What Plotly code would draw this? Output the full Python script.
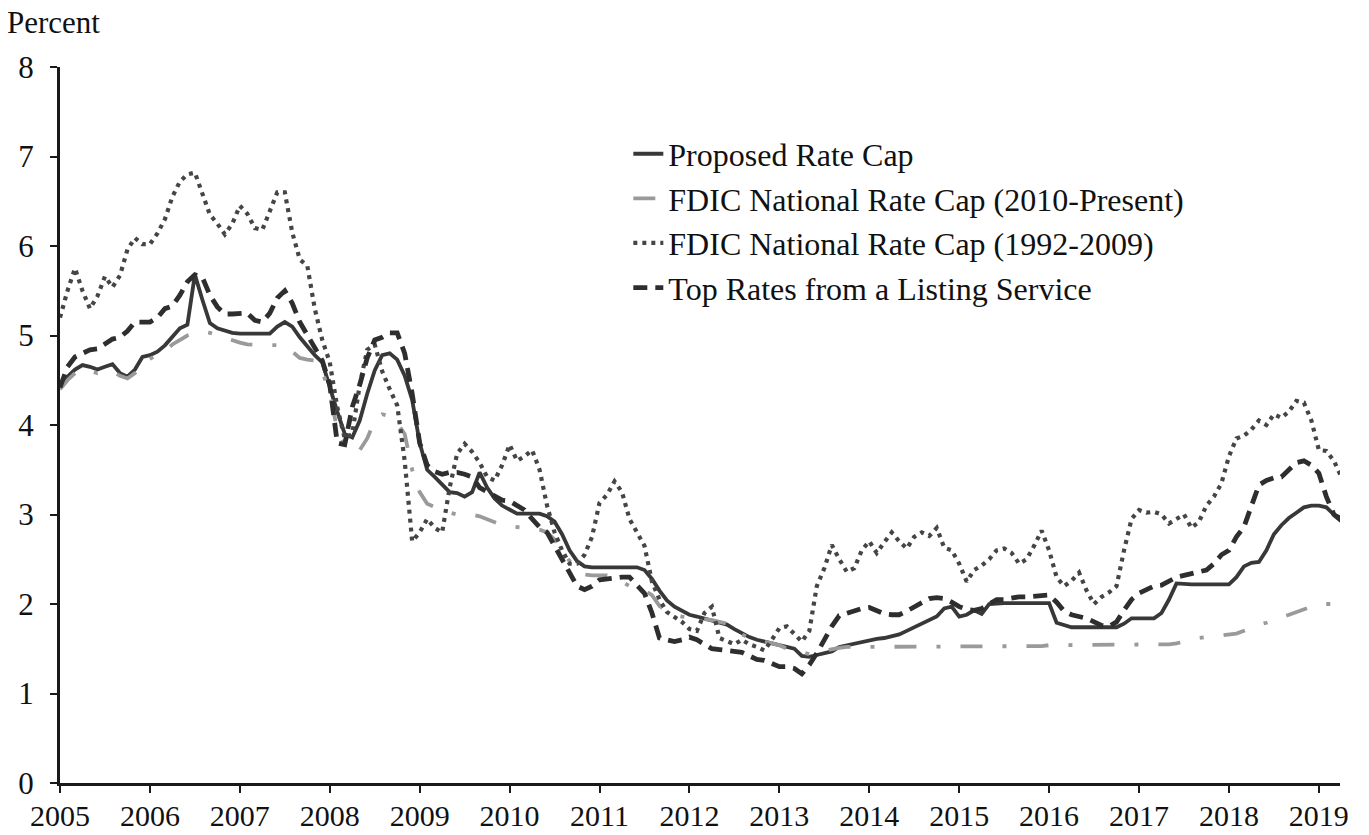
import plotly.graph_objects as go

# Monthly observations, January 2005 through April 2019
start_year = 2005
n_months = 172

proposed_rate_cap = [
    4.42, 4.54, 4.62, 4.67, 4.65, 4.62, 4.65, 4.68, 4.58, 4.54, 4.62, 4.76,
    4.78, 4.82, 4.89, 4.98, 5.08, 5.12, 5.68, 5.40, 5.14, 5.08, 5.05, 5.03,
    5.02, 5.02, 5.02, 5.02, 5.02, 5.10, 5.15, 5.10, 4.98, 4.88, 4.78, 4.70,
    4.42, 4.15, 3.90, 3.86, 4.05, 4.35, 4.61, 4.78, 4.80, 4.73, 4.55, 4.28,
    3.80, 3.50, 3.42, 3.33, 3.25, 3.24, 3.20, 3.25, 3.47, 3.30, 3.18, 3.10,
    3.05, 3.01, 3.01, 3.01, 3.01, 2.98, 2.92, 2.78, 2.60, 2.48, 2.42, 2.41,
    2.41, 2.41, 2.41, 2.41, 2.41, 2.41, 2.38, 2.28, 2.15, 2.04, 1.97, 1.92,
    1.88, 1.86, 1.84, 1.82, 1.80, 1.77, 1.72, 1.67, 1.63, 1.60, 1.58, 1.56,
    1.55, 1.52, 1.50, 1.42, 1.41, 1.43, 1.45, 1.47, 1.52, 1.54, 1.55, 1.57,
    1.60, 1.61, 1.62, 1.64, 1.66, 1.70, 1.74, 1.78, 1.82, 1.86, 1.95, 1.97,
    1.86, 1.88, 1.93, 1.89, 2.00, 2.01, 2.01, 2.01, 2.01, 2.01, 2.01, 2.01,
    2.01, 1.79, 1.76, 1.74, 1.74, 1.74, 1.74, 1.74, 1.74, 1.74, 1.78, 1.84,
    1.84, 1.84, 1.84, 1.90, 2.05, 2.23, 2.22, 2.22, 2.22, 2.22, 2.22, 2.22,
    2.22, 2.30, 2.42, 2.46, 2.47, 2.60, 2.78, 2.88, 2.96, 3.02, 3.08, 3.10,
    3.10, 3.08, 3.00, 2.96,
]

fdic_cap_2010_present = [
    4.40, 4.50, 4.58, 4.62, 4.60, 4.58, 4.60, 4.60, 4.55, 4.52, 4.58, 4.70,
    4.74, 4.78, 4.82, 4.90, 4.95, 5.00, 5.03, 5.04, 5.03, 5.00, 4.97, 4.94,
    4.92, 4.90, 4.90, 4.89, 4.89, 4.89, 4.89, 4.82, 4.75, 4.73, 4.72, 4.60,
    4.35, 3.95, 3.78, 3.70, 3.72, 3.85, 4.05, 4.12, 4.10, 4.02, 3.90, 3.50,
    3.25, 3.12, 3.08, 3.05, 3.02, 3.00, 3.00, 3.00, 2.98, 2.95, 2.92, 2.88,
    2.87, 2.86, 2.85, 2.84, 2.83, 2.80, 2.72, 2.60, 2.48, 2.38, 2.33, 2.32,
    2.32, 2.32, 2.30, 2.25, 2.20, 2.18, 2.15, 2.10, 1.98, 1.92, 1.88, 1.86,
    1.85, 1.84, 1.84, 1.82, 1.80, 1.78, 1.72, 1.66, 1.62, 1.60, 1.57, 1.55,
    1.54, 1.50, 1.48, 1.45, 1.44, 1.46, 1.48, 1.50, 1.51, 1.52, 1.52, 1.52,
    1.52, 1.52, 1.52, 1.52, 1.52, 1.52, 1.52, 1.52, 1.52, 1.52, 1.52, 1.52,
    1.53, 1.53, 1.53, 1.53, 1.53, 1.53, 1.53, 1.53, 1.53, 1.53, 1.53, 1.53,
    1.54, 1.54, 1.54, 1.54, 1.54, 1.54, 1.54, 1.54, 1.54, 1.54, 1.54, 1.54,
    1.54, 1.54, 1.54, 1.54, 1.55, 1.56, 1.58, 1.61, 1.62, 1.63, 1.64, 1.65,
    1.65, 1.67, 1.70, 1.74, 1.77, 1.79, 1.82, 1.85, 1.88, 1.90, 1.93, 1.97,
    2.00, 2.00, 2.00, 2.00,
]

fdic_cap_1992_2009 = [
    5.20, 5.50, 5.75, 5.50, 5.30, 5.44, 5.66, 5.54, 5.67, 5.96, 6.09, 6.02,
    6.02, 6.14, 6.30, 6.55, 6.72, 6.80, 6.82, 6.58, 6.35, 6.25, 6.13, 6.25,
    6.45, 6.36, 6.20, 6.18, 6.38, 6.60, 6.60, 6.15, 5.85, 5.78, 5.30, 4.95,
    4.70, 4.20, 3.85, 3.90, 4.45, 4.84, 4.90, 4.60, 4.40, 4.22, 3.60, 2.70,
    2.80, 2.95, 2.85, 2.80, 3.30, 3.68, 3.79, 3.70, 3.58, 3.42, 3.38, 3.55,
    3.78, 3.60, 3.65, 3.72, 3.50, 3.10, 2.80, 2.60, 2.45, 2.45, 2.55, 2.75,
    3.13, 3.22, 3.37, 3.25, 2.95, 2.80, 2.65, 2.25, 2.05, 1.91, 1.85, 1.80,
    1.72, 1.70, 1.90, 1.97, 1.62, 1.58, 1.55, 1.60, 1.55, 1.52, 1.48, 1.60,
    1.73, 1.75, 1.67, 1.58, 1.70, 2.20, 2.40, 2.66, 2.50, 2.36, 2.40, 2.60,
    2.70, 2.57, 2.69, 2.80, 2.70, 2.62, 2.75, 2.80, 2.76, 2.85, 2.63, 2.60,
    2.45, 2.25, 2.38, 2.43, 2.50, 2.60, 2.62, 2.57, 2.45, 2.50, 2.65, 2.82,
    2.60, 2.30, 2.20, 2.26, 2.35, 2.15, 2.00, 2.08, 2.13, 2.20, 2.60, 2.95,
    3.05, 3.02, 3.03, 3.00, 2.90, 2.95, 3.00, 2.85, 2.92, 3.10, 3.20, 3.35,
    3.65, 3.85, 3.88, 3.95, 4.05, 4.00, 4.12, 4.08, 4.15, 4.27, 4.25, 4.05,
    3.72, 3.71, 3.60, 3.42,
]

top_rates_listing_service = [
    4.42, 4.65, 4.76, 4.80, 4.84, 4.85, 4.90, 4.96, 4.98, 5.05, 5.15, 5.15,
    5.15, 5.20, 5.30, 5.33, 5.45, 5.60, 5.68, 5.65, 5.45, 5.32, 5.24, 5.24,
    5.25, 5.25, 5.17, 5.15, 5.25, 5.42, 5.50, 5.36, 5.15, 5.00, 4.85, 4.72,
    4.45, 3.80, 3.78, 4.20, 4.45, 4.75, 4.95, 4.98, 5.03, 5.03, 4.80, 4.35,
    3.80, 3.55, 3.48, 3.45, 3.47, 3.47, 3.45, 3.42, 3.30, 3.25, 3.20, 3.16,
    3.15, 3.10, 3.05, 2.95, 2.86, 2.80, 2.65, 2.50, 2.35, 2.20, 2.16, 2.20,
    2.27, 2.28, 2.30, 2.30, 2.30, 2.20, 2.12, 1.90, 1.62, 1.60, 1.58, 1.60,
    1.63, 1.60, 1.55, 1.50, 1.49, 1.48, 1.47, 1.46, 1.42, 1.38, 1.37, 1.33,
    1.30, 1.30, 1.28, 1.22, 1.32, 1.45, 1.60, 1.75, 1.87, 1.90, 1.92, 1.95,
    1.96, 1.93, 1.89, 1.88, 1.88, 1.92, 1.97, 2.02, 2.06, 2.07, 2.06, 2.02,
    1.97, 1.94, 1.93, 1.95, 2.00, 2.05, 2.05, 2.07, 2.08, 2.08, 2.09, 2.10,
    2.10, 2.02, 1.92, 1.88, 1.86, 1.84, 1.80, 1.76, 1.75, 1.80, 1.93, 2.05,
    2.12, 2.16, 2.20, 2.21, 2.25, 2.30, 2.32, 2.34, 2.36, 2.38, 2.45, 2.55,
    2.60, 2.75, 2.86, 3.08, 3.33, 3.38, 3.41, 3.42, 3.50, 3.58, 3.60, 3.55,
    3.46, 3.20, 3.00, 2.93,
]

series_names = [
    "Proposed Rate Cap",
    "FDIC National Rate Cap (2010-Present)",
    "FDIC National Rate Cap (1992-2009)",
    "Top Rates from a Listing Service",
]
year_ticks = list(range(2005, 2020))
y_ticks = list(range(0, 9))

x_time = [start_year + i / 12 for i in range(n_months)]

FONT = "Liberation Serif, Times New Roman, serif"
AXIS = "#1a1a1a"
TEXT = "#111111"

fig = go.Figure()
styles = [
    (proposed_rate_cap, dict(color="#383838", width=3.8, dash="solid")),
    (fdic_cap_2010_present, dict(color="#9a9a9a", width=3.8, dash="22px,20px,4px,20px")),
    (fdic_cap_1992_2009, dict(color="#454545", width=4.2, dash="4px,5px")),
    (top_rates_listing_service, dict(color="#2e2e2e", width=4.8, dash="14px,8px")),
]
for name, (vals, line) in zip(series_names, styles):
    fig.add_trace(go.Scatter(x=x_time, y=vals, mode="lines", name=name,
                             line=line, hoverinfo="skip"))

# the page body adds an 8px margin, so the figure is offset by 8px
fig.update_layout(
    width=1361, height=827,
    margin=dict(l=52, r=29, t=59, b=52, autoexpand=False),
    paper_bgcolor="white", plot_bgcolor="white",
    font=dict(family=FONT, size=31, color=TEXT),
    showlegend=True,
    legend=dict(x=0.444, y=0.917, xanchor="left", yanchor="top",
                bgcolor="rgba(0,0,0,0)", borderwidth=0,
                font=dict(family=FONT, size=32, color=TEXT),
                itemwidth=30, tracegroupgap=0),
    annotations=[dict(text="Percent", xref="paper", yref="paper",
                      x=-0.043, y=1.0615, xanchor="left", yanchor="middle",
                      showarrow=False,
                      font=dict(family=FONT, size=31, color=TEXT))],
)
fig.update_xaxes(
    range=[2005, 2019.235], tickmode="array", tickvals=year_ticks,
    ticktext=[str(y) for y in year_ticks], automargin=False,
    showgrid=False, zeroline=False, showline=True, linecolor=AXIS, linewidth=3,
    ticks="outside", ticklen=7, tickwidth=2, tickcolor=AXIS,
    ticklabelstandoff=-3,
    tickfont=dict(family=FONT, size=30, color=TEXT),
)
fig.update_yaxes(
    range=[0, 8], tickmode="array", tickvals=y_ticks,
    ticktext=[str(v) for v in y_ticks], automargin=False,
    showgrid=False, zeroline=False, showline=True, linecolor=AXIS, linewidth=3,
    ticks="outside", ticklen=7, tickwidth=2, tickcolor=AXIS,
    ticklabelstandoff=10,
    tickfont=dict(family=FONT, size=31, color=TEXT),
)

fig.write_html("out.html")
